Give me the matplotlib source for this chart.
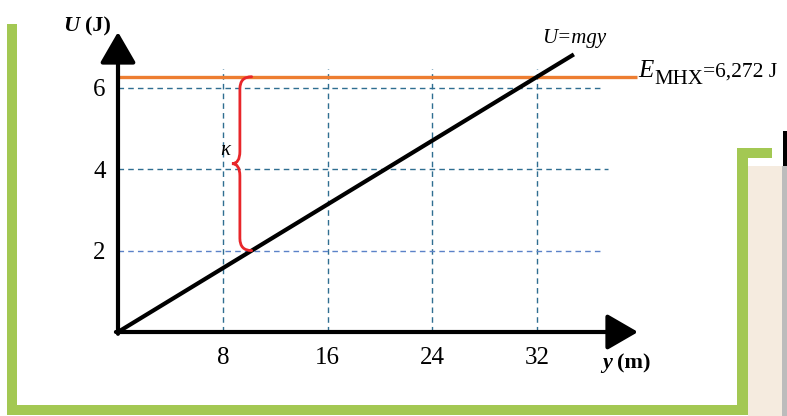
import matplotlib
matplotlib.use("Agg")
import matplotlib.pyplot as plt
from matplotlib.patches import Rectangle, PathPatch
from matplotlib.path import Path

plt.rcParams["font.family"] = ["Liberation Serif", "DejaVu Serif"]

# ---- data -------------------------------------------------------------
E_mech = 6.272                 # J, mechanical energy (constant)
y_at_E = 32                    # m, height where U reaches E
mg = E_mech / y_at_E           # N, slope of U = mgy
line_y = [0, 34.8]             # m, extent of the U(y) line
line_U = [mg * v for v in line_y]
x_ticks = [8, 16, 24, 32]
x_tick_labels = ["8", "16", "24", "32"]
y_ticks = [2, 4, 6]
y_tick_labels = ["2", "4", "6"]
U_brace = 2                    # J, level at which kinetic energy is shown

# ---- figure -----------------------------------------------------------
W, H = 787, 416
fig = plt.figure(figsize=(W / 100, H / 100), dpi=100)

# decorative frame drawn in pixel coordinates
bg = fig.add_axes([0, 0, 1, 1], zorder=0)
bg.set_xlim(0, W)
bg.set_ylim(H, 0)
bg.axis("off")
green = "#a3c853"
for (x0, y0, x1, y1, c) in [
    (7, 24, 17, 415, green),
    (7, 405, 748, 415, green),
    (737, 148, 748, 415, green),
    (737, 148, 772, 158, green),
    (748, 166, 783, 416, "#f5ebdf"),
    (782, 166, 787, 416, "#bcbcbc"),
    (783, 131, 787, 166, "#000000"),
]:
    bg.add_patch(Rectangle((x0, y0), x1 - x0, y1 - y0, color=c, lw=0))

ax = fig.add_axes([118 / W, 84 / H, 520 / W, 300 / H], zorder=2)
ax.set_xlim(0, 520 / 13.1)
ax.set_ylim(0, 300 / 40.7)
ax.patch.set_alpha(0)
for s in ax.spines.values():
    s.set_visible(False)

# dashed guide lines
grid_v = "#2f6e91"
dash = (0, (4, 3))
for xv in x_ticks:
    ax.plot([xv, xv], [0, 6.45], ls=dash, lw=1.0, color=grid_v, zorder=1)
ax.plot([0, 36.8], [6, 6], ls=dash, lw=1.0, color=grid_v, zorder=1)
ax.plot([0, 37.4], [4, 4], ls=dash, lw=1.0, color=grid_v, zorder=1)
ax.plot([0, 36.8], [2, 2], ls=dash, lw=1.0, color="#5b82c8", zorder=1)

# mechanical energy level
ax.plot([0, 39.6], [E_mech, E_mech], color="#ed7d31", lw=2.4, zorder=3,
        solid_capstyle="butt", clip_on=False)

# potential energy U = mgy
ax.plot(line_y, line_U, color="black", lw=3, zorder=4, solid_capstyle="butt")
ax.text(line_y[1], line_U[1] + 0.15, "U=mgy", style="italic",
        fontsize=15, ha="center", va="bottom")

# brace showing the kinetic energy at U = U_brace
yb = U_brace / mg
xs, xp, d = yb - 0.9, yb - 1.5, 0.3
mid = (E_mech + U_brace) / 2
verts = [(yb, E_mech), (xs, E_mech), (xs, E_mech - d),
         (xs, mid + d), (xs, mid), (xp, mid),
         (xs, mid), (xs, mid - d),
         (xs, U_brace + d), (xs, U_brace), (yb, U_brace)]
codes = [Path.MOVETO, Path.CURVE3, Path.CURVE3,
         Path.LINETO, Path.CURVE3, Path.CURVE3,
         Path.CURVE3, Path.CURVE3,
         Path.LINETO, Path.CURVE3, Path.CURVE3]
ax.add_patch(PathPatch(Path(verts, codes), fill=False, ec="#e8262a",
                       lw=2.0, zorder=5, capstyle="round"))
ax.text(xp - 0.1, mid + 0.1, "κ", style="italic", fontsize=15,
        ha="right", va="bottom", zorder=6)

# energy label
ax.annotate("E", xy=(39.7, E_mech), xycoords="data", style="italic",
            fontsize=18, ha="left", va="baseline", annotation_clip=False)
ax.annotate("MHX", xy=(39.7, E_mech), xycoords="data",
            xytext=(11.5, -5), textcoords="offset points",
            fontsize=15, ha="left", va="baseline", annotation_clip=False)
ax.annotate("=6,272 J", xy=(39.7, E_mech), xycoords="data",
            xytext=(46.5, 0), textcoords="offset points",
            fontsize=15.5, ha="left", va="baseline", annotation_clip=False)

# axes with arrow heads
arrow = dict(arrowstyle="-|>,head_length=0.95,head_width=0.55",
             color="black", lw=3, shrinkA=0, shrinkB=0, mutation_scale=20)
ax.annotate("", xy=(1, 0), xytext=(-0.004, 0), xycoords="axes fraction",
            arrowprops=arrow, zorder=6)
ax.annotate("", xy=(0, 1), xytext=(0, -0.006), xycoords="axes fraction",
            arrowprops=arrow, zorder=6)

# ticks
ax.set_xticks(x_ticks, x_tick_labels)
ax.set_yticks(y_ticks, y_tick_labels)
ax.tick_params(axis="x", length=0, pad=11, labelsize=18)
ax.tick_params(axis="y", length=0, pad=9, labelsize=18)

# axis titles
ax.annotate("U", xy=(0, 1), xycoords="axes fraction", xytext=(-27.5, 0.5),
            textcoords="offset points", fontsize=16, fontweight="bold",
            style="italic", ha="right", va="baseline", annotation_clip=False)
ax.annotate("(J)", xy=(0, 1), xycoords="axes fraction", xytext=(-24, 0.5),
            textcoords="offset points", fontsize=16, fontweight="bold",
            ha="left", va="baseline", annotation_clip=False)
ax.annotate("y", xy=(1, 0), xycoords="axes fraction", xytext=(-19, -26),
            textcoords="offset points", fontsize=16, fontweight="bold",
            style="italic", ha="right", va="baseline", annotation_clip=False)
ax.annotate("(m)", xy=(1, 0), xycoords="axes fraction", xytext=(-15, -26),
            textcoords="offset points", fontsize=16, fontweight="bold",
            ha="left", va="baseline", annotation_clip=False)

fig.savefig("out.png", dpi=100)
